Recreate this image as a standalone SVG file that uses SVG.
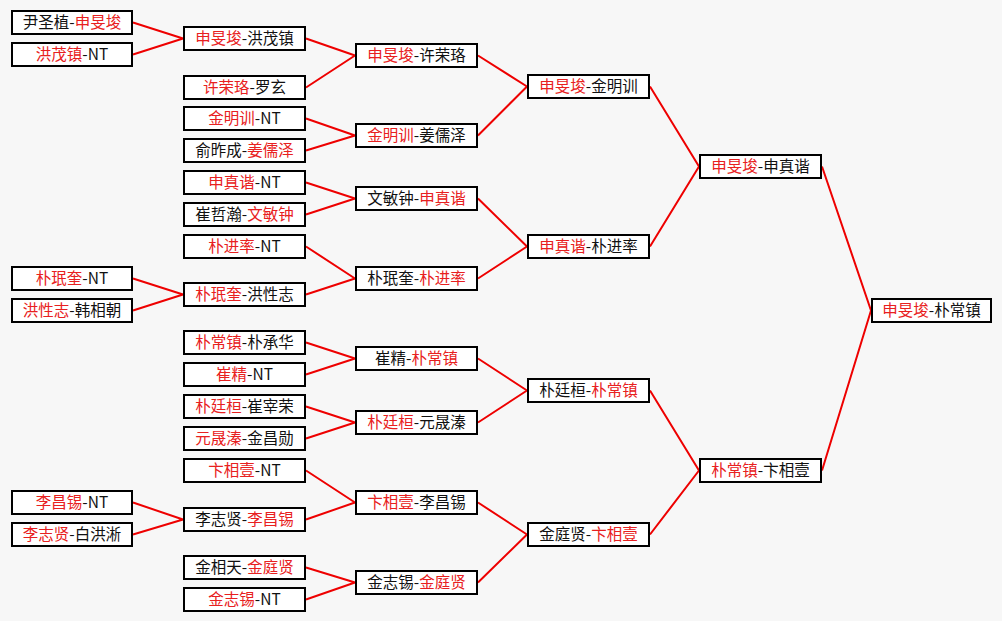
<svg xmlns="http://www.w3.org/2000/svg" width="1002" height="621" viewBox="0 0 1002 621">
<style>
.bg{fill:#f7f7f7}
.b{fill:#ffffff;stroke:#000000;stroke-width:2}
.t{font-family:"Noto Sans CJK SC","Noto Sans",sans-serif;font-size:15.5px;fill:#111111;text-anchor:middle}
.r{fill:#e82020}
.c{fill:none;stroke:#ee0000;stroke-width:2;stroke-linejoin:round}
</style>
<rect class="bg" x="0" y="0" width="1002" height="621"/>
<g id="connectors">
<path class="c" d="M133 22.5L183 38.5L133 54.5"/>
<path class="c" d="M133 278.5L183 294.5L133 310.5"/>
<path class="c" d="M133 502.5L183 519.5L133 534.5"/>
<path class="c" d="M306 38.5L355 55.5L306 87.5"/>
<path class="c" d="M306 118.5L355 135.5L306 150.5"/>
<path class="c" d="M306 182.5L355 198.5L306 214.5"/>
<path class="c" d="M306 246.5L355 278.5L306 294.5"/>
<path class="c" d="M306 342.5L355 358.5L306 374.5"/>
<path class="c" d="M306 406.5L355 422.5L306 438.5"/>
<path class="c" d="M306 470.5L355 502.5L306 519.5"/>
<path class="c" d="M306 567.5L355 582.5L306 599.5"/>
<path class="c" d="M478 55.5L527 86.5L478 135.5"/>
<path class="c" d="M478 198.5L527 246.5L478 278.5"/>
<path class="c" d="M478 358.5L527 390.5L478 422.5"/>
<path class="c" d="M478 502.5L527 534.5L478 582.5"/>
<path class="c" d="M650 86.5L699 166.5L650 246.5"/>
<path class="c" d="M650 390.5L699 470.5L650 534.5"/>
<path class="c" d="M822 166.5L871 310.5L822 470.5"/>
</g>
<!-- round 1 -->
<g id="n1"><rect class="b" x="12" y="11" width="120" height="23"/><text class="t" x="72" y="28">尹圣植-<tspan class="r">申旻埈</tspan></text></g>
<g id="n2"><rect class="b" x="12" y="43" width="120" height="23"/><text class="t" x="72" y="60"><tspan class="r">洪茂镇</tspan>-NT</text></g>
<g id="n3"><rect class="b" x="12" y="267" width="120" height="23"/><text class="t" x="72" y="284"><tspan class="r">朴珉奎</tspan>-NT</text></g>
<g id="n4"><rect class="b" x="12" y="299" width="120" height="23"/><text class="t" x="72" y="316"><tspan class="r">洪性志</tspan>-韩相朝</text></g>
<g id="n5"><rect class="b" x="12" y="491" width="120" height="23"/><text class="t" x="72" y="508"><tspan class="r">李昌锡</tspan>-NT</text></g>
<g id="n6"><rect class="b" x="12" y="523" width="120" height="23"/><text class="t" x="72" y="540"><tspan class="r">李志贤</tspan>-白洪淅</text></g>
<!-- round 2 -->
<g id="m1"><rect class="b" x="184" y="27" width="121" height="23"/><text class="t" x="244.5" y="44"><tspan class="r">申旻埈</tspan>-洪茂镇</text></g>
<g id="m2"><rect class="b" x="184" y="76" width="121" height="23"/><text class="t" x="244.5" y="93"><tspan class="r">许荣珞</tspan>-罗玄</text></g>
<g id="m3"><rect class="b" x="184" y="107" width="121" height="23"/><text class="t" x="244.5" y="124"><tspan class="r">金明训</tspan>-NT</text></g>
<g id="m4"><rect class="b" x="184" y="139" width="121" height="23"/><text class="t" x="244.5" y="156">俞昨成-<tspan class="r">姜儒泽</tspan></text></g>
<g id="m5"><rect class="b" x="184" y="171" width="121" height="23"/><text class="t" x="244.5" y="188"><tspan class="r">申真谐</tspan>-NT</text></g>
<g id="m6"><rect class="b" x="184" y="203" width="121" height="23"/><text class="t" x="244.5" y="220">崔哲瀚-<tspan class="r">文敏钟</tspan></text></g>
<g id="m7"><rect class="b" x="184" y="235" width="121" height="23"/><text class="t" x="244.5" y="252"><tspan class="r">朴进率</tspan>-NT</text></g>
<g id="m8"><rect class="b" x="184" y="283" width="121" height="23"/><text class="t" x="244.5" y="300"><tspan class="r">朴珉奎</tspan>-洪性志</text></g>
<g id="m9"><rect class="b" x="184" y="331" width="121" height="23"/><text class="t" x="244.5" y="348"><tspan class="r">朴常镇</tspan>-朴承华</text></g>
<g id="m10"><rect class="b" x="184" y="363" width="121" height="23"/><text class="t" x="244.5" y="380"><tspan class="r">崔精</tspan>-NT</text></g>
<g id="m11"><rect class="b" x="184" y="395" width="121" height="23"/><text class="t" x="244.5" y="412"><tspan class="r">朴廷桓</tspan>-崔宰荣</text></g>
<g id="m12"><rect class="b" x="184" y="427" width="121" height="23"/><text class="t" x="244.5" y="444"><tspan class="r">元晟溱</tspan>-金昌勋</text></g>
<g id="m13"><rect class="b" x="184" y="459" width="121" height="23"/><text class="t" x="244.5" y="476"><tspan class="r">卞相壹</tspan>-NT</text></g>
<g id="m14"><rect class="b" x="184" y="508" width="121" height="23"/><text class="t" x="244.5" y="525">李志贤-<tspan class="r">李昌锡</tspan></text></g>
<g id="m15"><rect class="b" x="184" y="556" width="121" height="23"/><text class="t" x="244.5" y="573">金相天-<tspan class="r">金庭贤</tspan></text></g>
<g id="m16"><rect class="b" x="184" y="588" width="121" height="23"/><text class="t" x="244.5" y="605"><tspan class="r">金志锡</tspan>-NT</text></g>
<!-- round 3 -->
<g id="q1"><rect class="b" x="356" y="44" width="121" height="23"/><text class="t" x="416.5" y="61"><tspan class="r">申旻埈</tspan>-许荣珞</text></g>
<g id="q2"><rect class="b" x="356" y="124" width="121" height="23"/><text class="t" x="416.5" y="141"><tspan class="r">金明训</tspan>-姜儒泽</text></g>
<g id="q3"><rect class="b" x="356" y="187" width="121" height="23"/><text class="t" x="416.5" y="204">文敏钟-<tspan class="r">申真谐</tspan></text></g>
<g id="q4"><rect class="b" x="356" y="267" width="121" height="23"/><text class="t" x="416.5" y="284">朴珉奎-<tspan class="r">朴进率</tspan></text></g>
<g id="q5"><rect class="b" x="356" y="347" width="121" height="23"/><text class="t" x="416.5" y="364">崔精-<tspan class="r">朴常镇</tspan></text></g>
<g id="q6"><rect class="b" x="356" y="411" width="121" height="23"/><text class="t" x="416.5" y="428"><tspan class="r">朴廷桓</tspan>-元晟溱</text></g>
<g id="q7"><rect class="b" x="356" y="491" width="121" height="23"/><text class="t" x="416.5" y="508"><tspan class="r">卞相壹</tspan>-李昌锡</text></g>
<g id="q8"><rect class="b" x="356" y="571" width="121" height="23"/><text class="t" x="416.5" y="588">金志锡-<tspan class="r">金庭贤</tspan></text></g>
<!-- round 4 -->
<g id="s1"><rect class="b" x="528" y="75" width="121" height="23"/><text class="t" x="588.5" y="92"><tspan class="r">申旻埈</tspan>-金明训</text></g>
<g id="s2"><rect class="b" x="528" y="235" width="121" height="23"/><text class="t" x="588.5" y="252"><tspan class="r">申真谐</tspan>-朴进率</text></g>
<g id="s3"><rect class="b" x="528" y="379" width="121" height="23"/><text class="t" x="588.5" y="396">朴廷桓-<tspan class="r">朴常镇</tspan></text></g>
<g id="s4"><rect class="b" x="528" y="523" width="121" height="23"/><text class="t" x="588.5" y="540">金庭贤-<tspan class="r">卞相壹</tspan></text></g>
<!-- round 5 -->
<g id="f1"><rect class="b" x="700" y="155" width="121" height="23"/><text class="t" x="760.5" y="172"><tspan class="r">申旻埈</tspan>-申真谐</text></g>
<g id="f2"><rect class="b" x="700" y="459" width="121" height="23"/><text class="t" x="760.5" y="476"><tspan class="r">朴常镇</tspan>-卞相壹</text></g>
<!-- final -->
<g id="final"><rect class="b" x="872" y="299" width="119" height="23"/><text class="t" x="931.5" y="316"><tspan class="r">申旻埈</tspan>-朴常镇</text></g>
</svg>
